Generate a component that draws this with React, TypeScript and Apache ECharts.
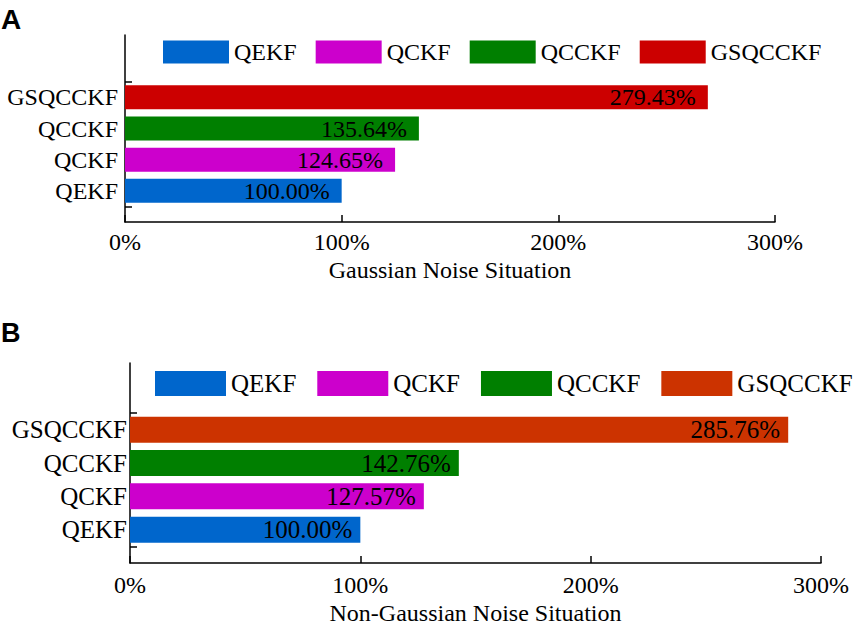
import React, { useEffect, useRef } from "react";
import * as echarts from "echarts";

const methods = ["QEKF", "QCKF", "QCCKF", "GSQCCKF"];
// Panel A (Gaussian): bar lengths as drawn, and printed labels
const gaussianBars = [100.0, 124.65, 135.64, 269.0];
const gaussianLabels = ["100.00%", "124.65%", "135.64%", "279.43%"];
// Panel B (Non-Gaussian)
const nonGaussianBars = [100.0, 127.57, 142.76, 285.76];
const nonGaussianLabels = ["100.00%", "127.57%", "142.76%", "285.76%"];
const xTicks = [0, 100, 200, 300];
const colorsA = ["#0066CC", "#CC00CC", "#007F00", "#CC0000"];
const colorsB = ["#0066CC", "#CC00CC", "#007F00", "#CC3300"];

const SERIF = "'Liberation Serif', 'Times New Roman', serif";
const SANS = "'Liberation Sans', Arial, sans-serif";

// category positions: padding below and above the four methods
const categories = ["", ...methods, "", ""];

export default function App() {
  const ref = useRef<HTMLDivElement>(null);
  useEffect(() => {
    if (!ref.current) return;
    const chart = echarts.init(ref.current, null, { renderer: "svg" });

    const makeSeries = (
      bars: number[],
      labels: string[],
      colors: string[],
      gi: number,
      barWidth: number,
      fontSize: number,
      distance: number
    ) =>
      methods.map((m, i) => ({
        name: m,
        type: "bar",
        xAxisIndex: gi,
        yAxisIndex: gi * 2,
        barWidth,
        barGap: "-100%",
        data: categories.map((c, ci) => (ci === i + 1 ? bars[i] : null)),
        itemStyle: { color: colors[i] },
        label: {
          show: true,
          position: "insideRight",
          distance,
          color: "#000",
          fontFamily: SERIF,
          fontSize,
          formatter: () => labels[i],
        },
      }));

    const xAxisCommon = (gi: number, name: string, margin: number, nameGap: number, fs: number) => ({
      type: "value",
      gridIndex: gi,
      min: xTicks[0],
      max: xTicks[xTicks.length - 1],
      interval: 100,
      name,
      nameLocation: "middle",
      nameGap,
      nameTextStyle: { color: "#000", fontFamily: SERIF, fontSize: fs },
      axisLine: { show: true, lineStyle: { color: "#000", width: 1.5 } },
      axisTick: { show: true, inside: true, length: 7, lineStyle: { color: "#000", width: 1.5 } },
      axisLabel: { color: "#000", fontFamily: SERIF, fontSize: 24, margin, formatter: "{value}%" },
      splitLine: { show: false },
    });

    const yCat = (gi: number, margin: number, fs: number) => ({
      type: "category",
      gridIndex: gi,
      data: categories,
      boundaryGap: false,
      position: "left",
      axisLine: { show: false },
      axisTick: { show: false },
      axisLabel: { interval: 0, color: "#000", fontFamily: SERIF, fontSize: fs, margin },
      splitLine: { show: false },
    });

    const yDecor = (gi: number) => ({
      type: "value",
      gridIndex: gi,
      min: 0,
      max: categories.length - 1,
      position: "left",
      axisLine: { show: true, lineStyle: { color: "#000", width: 1.5 } },
      axisTick: {
        show: true,
        inside: true,
        length: 7,
        customValues: [0.5, 4.5],
        lineStyle: { color: "#000", width: 1.5 },
      },
      axisLabel: { show: false },
      splitLine: { show: false },
    });

    chart.setOption({
      animation: false,
      backgroundColor: "#fff",
      grid: [
        { left: 125, top: 35, right: 92, height: 187, containLabel: false },
        { left: 130, top: 363, right: 46, height: 200, containLabel: false },
      ],
      legend: [
        {
          left: 163,
          top: 40,
          padding: 0,
          itemWidth: 66,
          itemHeight: 23,
          itemGap: 19,
          icon: "rect",
          data: methods,
          textStyle: { color: "#000", fontFamily: SERIF, fontSize: 24 },
        },
        {
          left: 155,
          top: 371,
          padding: 0,
          itemWidth: 71,
          itemHeight: 25,
          itemGap: 21,
          icon: "rect",
          data: methods.map((m, i) => ({ name: m, itemStyle: { color: colorsB[i] } })),
          textStyle: { color: "#000", fontFamily: SERIF, fontSize: 25 },
        },
      ],
      xAxis: [
        xAxisCommon(0, "Gaussian Noise Situation", 8, 36, 24),
        xAxisCommon(1, "Non-Gaussian Noise Situation", 10, 38, 24),
      ],
      yAxis: [yCat(0, 7, 24), yDecor(0), yCat(1, 3, 25), yDecor(1)],
      series: [
        ...makeSeries(gaussianBars, gaussianLabels, colorsA, 0, 24, 24, 12),
        ...makeSeries(nonGaussianBars, nonGaussianLabels, colorsB, 1, 26, 25, 8),
      ],
      graphic: [
        {
          type: "text",
          left: 1,
          top: 5,
          style: { text: "A", fontFamily: SANS, fontWeight: "bold", fontSize: 28, fill: "#000" },
        },
        {
          type: "text",
          left: 1,
          top: 319,
          style: { text: "B", fontFamily: SANS, fontWeight: "bold", fontSize: 27, fill: "#000" },
        },
      ],
    });
    return () => chart.dispose();
  }, []);
  return (
    <div
      ref={ref}
      style={{ position: "fixed", left: 0, top: 0, width: 867, height: 629, background: "#fff" }}
    />
  );
}
